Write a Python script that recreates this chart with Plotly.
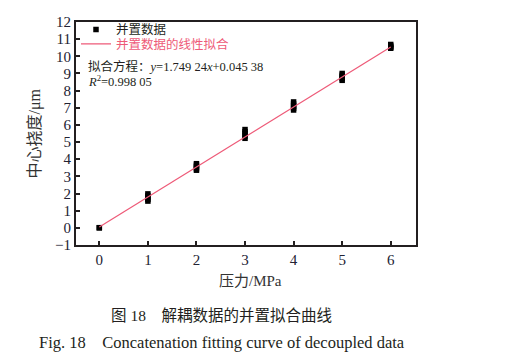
import plotly.graph_objects as go

pressure = [0, 0,
            1, 1, 1, 1, 1,
            2, 2, 2, 2, 2,
            3, 3, 3, 3, 3,
            4, 4, 4, 4, 4,
            5, 5, 5, 5, 5,
            6, 6, 6, 6]
deflection = [0.0, 0.01,
              1.56, 1.66, 1.76, 1.86, 1.98,
              3.36, 3.45, 3.55, 3.65, 3.74,
              5.22, 5.35, 5.48, 5.60, 5.73,
              6.87, 6.98, 7.10, 7.22, 7.34,
              8.60, 8.70, 8.80, 8.90, 9.00,
              10.47, 10.53, 10.60, 10.69]
fit_x = [0, 6]
fit_y = [0.045, 10.541]

x_ticks = [0, 1, 2, 3, 4, 5, 6]
y_ticks = list(range(-1, 13))

SERIF = "Liberation Serif, Noto Sans CJK SC, serif"
MIX = "Liberation Serif, Noto Sans CJK SC"
BLACK = "#231f20"
RED = "#ee5a78"

fig = go.Figure()
fig.add_trace(go.Scatter(
    x=pressure, y=deflection, mode="markers", name="并置数据",
    marker=dict(symbol="square", size=5.5, color="black", line=dict(width=0)),
    legend="legend",
))
fig.add_trace(go.Scatter(
    x=fit_x, y=fit_y, mode="lines",
    name="<span style='color:%s'>并置数据的线性拟合</span>" % RED,
    line=dict(color=RED, width=1.2),
    legend="legend2",
))

axis_common = dict(
    showline=True, linecolor=BLACK, linewidth=2, mirror=True,
    ticks="inside", ticklen=4, tickwidth=1.5, tickcolor=BLACK,
    showgrid=False, zeroline=False, automargin=False,
    tickfont=dict(family=SERIF, size=15, color="#222233"),
)

leg_common = dict(xanchor="left", yanchor="middle",
                  font=dict(family=MIX, size=12.5, color=BLACK),
                  bgcolor="rgba(0,0,0,0)", itemwidth=30)

fig.update_layout(
    width=506, height=361,
    margin=dict(l=68, r=98, t=7, b=124),
    paper_bgcolor="white", plot_bgcolor="white",
    showlegend=True,
    legend=dict(x=0, y=0.965, **leg_common),
    legend2=dict(x=0, y=0.90, **leg_common),
    xaxis=dict(range=[-0.48, 6.52], tickvals=x_ticks, **axis_common),
    yaxis=dict(range=[-1, 12], tickvals=y_ticks, **axis_common),
)

# axis titles
fig.add_annotation(xref="paper", yref="paper", x=0.512, y=-0.161,
                   xanchor="center", yanchor="middle", showarrow=False,
                   text="压力/MPa",
                   font=dict(family=MIX, size=15, color="#333"))
fig.add_annotation(xref="paper", yref="paper", x=-0.1206, y=0.5,
                   xanchor="center", yanchor="middle", showarrow=False,
                   textangle=-90, text="中心挠度/μm",
                   font=dict(family=MIX, size=16, color="#333"))

fig.add_annotation(xref="paper", yref="paper", x=0.0285, y=0.80,
                   xanchor="left", yanchor="middle", showarrow=False,
                   text="拟合方程：<i>y</i>=1.749 24<i>x</i>+0.045 38",
                   font=dict(family=MIX, size=12.5, color=BLACK))
fig.add_annotation(xref="paper", yref="paper", x=0.0285, y=0.735,
                   xanchor="left", yanchor="middle", showarrow=False,
                   text="<i>R</i><sup>2</sup>=0.998 05",
                   font=dict(family=MIX, size=12.5, color=BLACK))

fig.add_annotation(xref="paper", yref="paper", x=0.429, y=-0.317,
                   xanchor="center", yanchor="middle", showarrow=False,
                   text="图 18　解耦数据的并置拟合曲线",
                   font=dict(family=MIX, size=15.5, color=BLACK))
fig.add_annotation(xref="paper", yref="paper", x=0.429, y=-0.435,
                   xanchor="center", yanchor="middle", showarrow=False,
                   text="Fig. 18　Concatenation fitting curve of decoupled data",
                   font=dict(family=SERIF, size=16.5, color=BLACK))

fig.write_html("out.html")
